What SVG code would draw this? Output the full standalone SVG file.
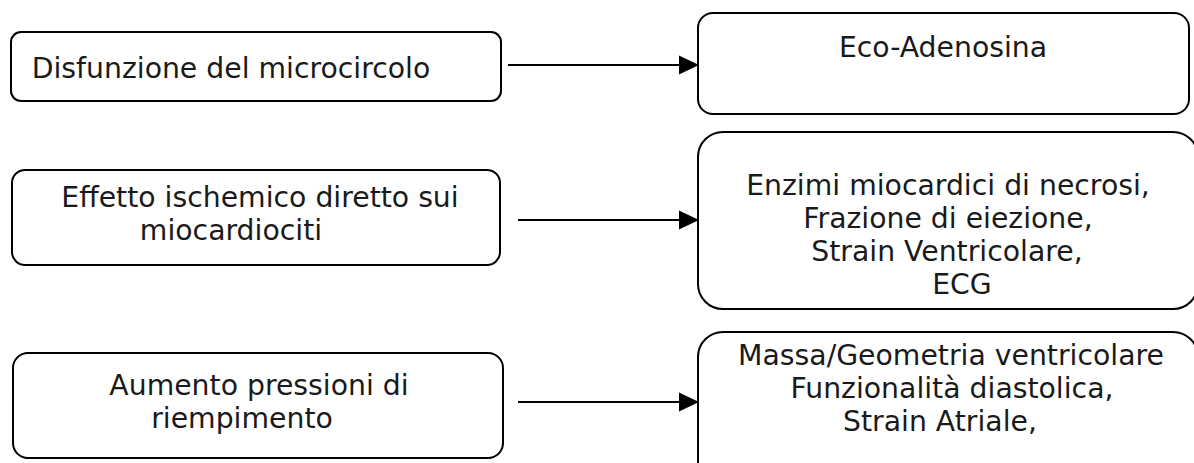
<svg xmlns="http://www.w3.org/2000/svg" width="1194" height="463" viewBox="0 0 1194 463">
<style>
.box{fill:#fff;stroke:#000;stroke-width:2}
.t{font-family:"DejaVu Sans",sans-serif;font-size:28.3px;fill:#1a1a1a;text-anchor:middle}
.conn{stroke:#000;stroke-width:2;fill:none}
</style>
<defs>
<marker id="ah" markerUnits="userSpaceOnUse" markerWidth="20" markerHeight="19" refX="0" refY="9.5" orient="auto" overflow="visible">
<path d="M0,0 L20,9.5 L0,19 z" fill="#000"/>
</marker>
</defs>
<rect width="1194" height="463" fill="#fff"/>
<g id="n1"><rect class="box" x="11" y="32" width="490" height="69" rx="10"/><text class="t" x="231" y="78">Disfunzione del microcircolo</text></g>
<g id="n2"><rect class="box" x="698" y="13" width="491" height="101" rx="15"/><text class="t" x="943" y="57">Eco-Adenosina</text></g>
<g id="n3"><rect class="box" x="12" y="170" width="488" height="95" rx="13"/><text class="t" x="260" y="207">Effetto ischemico diretto sui</text><text class="t" x="231" y="240">miocardiociti</text></g>
<g id="n4"><rect class="box" x="698" y="132" width="500" height="177" rx="25"/><text class="t" x="948" y="195">Enzimi miocardici di necrosi,</text><text class="t" x="948" y="228">Frazione di eiezione,</text><text class="t" x="947" y="261">Strain Ventricolare,</text><text class="t" x="962" y="294">ECG</text></g>
<g id="n5"><rect class="box" x="13" y="353" width="490" height="105" rx="15"/><text class="t" x="259" y="395">Aumento pressioni di</text><text class="t" x="242" y="428">riempimento</text></g>
<g id="n6"><rect class="box" x="698" y="332" width="500" height="160" rx="25"/><text class="t" x="951" y="365">Massa/Geometria ventricolare</text><text class="t" x="952" y="398">Funzionalità diastolica,</text><text class="t" x="940" y="431">Strain Atriale,</text></g>
<g id="connectors">
<line class="conn" x1="508" y1="65" x2="679" y2="65" marker-end="url(#ah)"/>
<line class="conn" x1="518" y1="220" x2="679" y2="220" marker-end="url(#ah)"/>
<line class="conn" x1="518" y1="402" x2="679" y2="402" marker-end="url(#ah)"/>
</g>
</svg>
